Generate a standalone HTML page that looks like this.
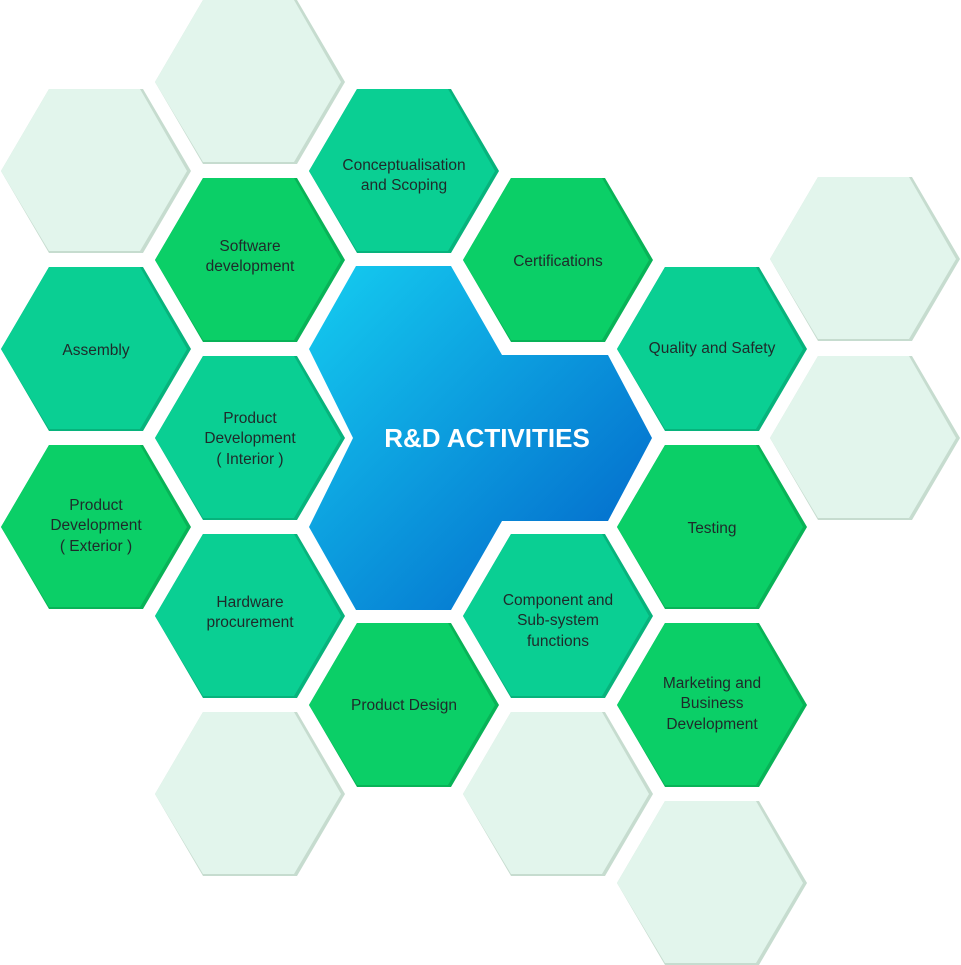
<!DOCTYPE html>
<html><head><meta charset="utf-8"><style>
html,body{margin:0;padding:0;background:#fff;}
svg{display:block;}
text{font-family:"Liberation Sans",sans-serif;font-size:15.5px;fill:#1f2a2a;text-anchor:middle;}
</style></head><body>
<svg width="961" height="965" viewBox="0 0 961 965" xmlns="http://www.w3.org/2000/svg">
<defs>
<g id="L"><polygon points="-95,0 -47,-82 47,-82 95,0 47,82 -47,82" fill="#c6dccf"/><polygon points="-95,0 -47,-82 44,-82 91,0 44,80 -47,80" fill="#e2f5ec"/></g>
<g id="T"><polygon points="-95,0 -47,-82 47,-82 95,0 47,82 -47,82" fill="#07b37c"/><polygon points="-95,0 -47,-82 44,-82 91,0 44,80 -47,80" fill="#0acf93"/></g>
<g id="G"><polygon points="-95,0 -47,-82 47,-82 95,0 47,82 -47,82" fill="#08b357"/><polygon points="-95,0 -47,-82 44,-82 91,0 44,80 -47,80" fill="#0bcf67"/></g>
<linearGradient id="bl" x1="0" y1="0" x2="1" y2="1"><stop offset="0" stop-color="#15cdf0"/><stop offset="1" stop-color="#0160c8"/></linearGradient>
</defs>
<use href="#L" x="250" y="82"/>
<use href="#L" x="96" y="171"/>
<use href="#L" x="865" y="259"/>
<use href="#L" x="865" y="438"/>
<use href="#L" x="250" y="794"/>
<use href="#L" x="558" y="794"/>
<use href="#L" x="712" y="883"/>
<use href="#T" x="404" y="171"/>
<use href="#T" x="96" y="349"/>
<use href="#T" x="250" y="438"/>
<use href="#T" x="712" y="349"/>
<use href="#T" x="250" y="616"/>
<use href="#T" x="558" y="616"/>
<use href="#G" x="250" y="260"/>
<use href="#G" x="558" y="260"/>
<use href="#G" x="96" y="527"/>
<use href="#G" x="712" y="527"/>
<use href="#G" x="404" y="705"/>
<use href="#G" x="712" y="705"/>
<polygon points="309,349 356,266 451,266 502,355 608,355 652,438 608,521 502,521 451,610 356,610 309,527 353,438" fill="url(#bl)"/>
<text x="487" y="447" style="font-size:26px;font-weight:bold;fill:#fff">R&amp;D ACTIVITIES</text>
<text x="404" y="170">Conceptualisation</text><text x="404" y="190">and Scoping</text>
<text x="96" y="355">Assembly</text>
<text x="250" y="423">Product</text><text x="250" y="443">Development</text><text x="250" y="464">( Interior )</text>
<text x="712" y="353">Quality and Safety</text>
<text x="250" y="607">Hardware</text><text x="250" y="627">procurement</text>
<text x="558" y="605">Component and</text><text x="558" y="625">Sub-system</text><text x="558" y="646">functions</text>
<text x="250" y="251">Software</text><text x="250" y="271">development</text>
<text x="558" y="266">Certifications</text>
<text x="96" y="510">Product</text><text x="96" y="530">Development</text><text x="96" y="551">( Exterior )</text>
<text x="712" y="533">Testing</text>
<text x="404" y="710">Product Design</text>
<text x="712" y="688">Marketing and</text><text x="712" y="708">Business</text><text x="712" y="729">Development</text>
</svg>
</body></html>
